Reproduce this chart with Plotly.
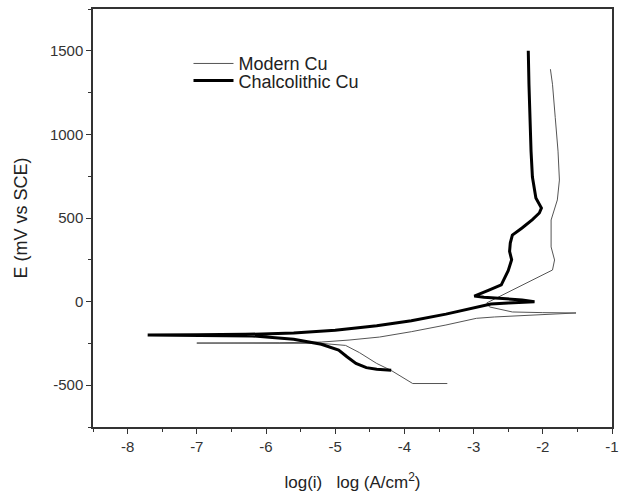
import plotly.graph_objects as go

# Modern Cu (thin curve): log(i) and E in mV vs SCE
modern_logi = [-3.38, -3.88, -4.19, -4.40, -4.65, -4.85, -5.2, -5.8, -6.5, -7.0,
               -6.5, -5.8, -5.2, -4.8, -4.36, -3.9, -3.4, -2.96, -2.70, -2.2, -1.52,
               -2.0, -2.44, -2.77, -2.81, -2.70, -2.58, -2.24, -2.0, -1.86, -1.83,
               -1.88, -1.88, -1.79, -1.76, -1.78, -1.82, -1.86, -1.89]
modern_E = [-490, -490, -412, -370, -305, -262, -250, -249, -248, -248,
            -247, -246, -242, -230, -212, -180, -140, -100, -92, -80, -68,
            -66, -62, -32, -8, 15, 40, 111, 160, 189, 249,
            327, 488, 608, 727, 900, 1100, 1300, 1390]

# Chalcolithic Cu (thick curve)
chalco_logi = [-4.19, -4.40, -4.55, -4.70, -4.83, -4.95, -5.2, -5.6, -6.2, -7.0, -7.71,
               -7.0, -6.3, -5.6, -5.0, -4.4, -3.9, -3.4, -3.0, -2.75, -2.5, -2.25, -2.12,
               -2.3, -2.6, -2.85, -2.99, -2.9, -2.77, -2.6, -2.55, -2.5, -2.45, -2.48,
               -2.47, -2.44, -2.3, -2.15, -2.05, -2.02, -2.1, -2.15, -2.17, -2.19, -2.2, -2.21]
chalco_E = [-410, -405, -395, -370, -330, -290, -255, -225, -205, -200, -200,
            -199, -196, -188, -172, -145, -115, -75, -40, -15, -8, -4, -1,
            10, 18, 26, 33, 50, 70, 100, 140, 185, 250, 300,
            350, 398, 440, 490, 530, 560, 620, 745, 900, 1100, 1300, 1500]

# tick labels (plain hyphen, as in the original)
x_ticks = [-8, -7, -6, -5, -4, -3, -2, -1]
x_labels = ["-8", "-7", "-6", "-5", "-4", "-3", "-2", "-1"]
y_ticks = [-500, 0, 500, 1000, 1500]
y_labels = ["-500", "0", "500", "1000", "1500"]

fig = go.Figure()
fig.add_trace(go.Scatter(x=modern_logi, y=modern_E, mode="lines", name="Modern Cu",
                         line=dict(color="#555555", width=1), legend="legend", showlegend=True))
fig.add_trace(go.Scatter(x=chalco_logi, y=chalco_E, mode="lines", name="Chalcolithic Cu",
                         line=dict(color="black", width=3), legend="legend2", showlegend=True))

axis_font = dict(family="Liberation Sans, Arial, sans-serif", size=15, color="#333333")
leg = dict(xanchor="left", yanchor="middle", bgcolor="rgba(0,0,0,0)",
           font=dict(size=18, color="#222222"), borderwidth=0, itemwidth=40)

fig.update_layout(
    width=621, height=495,
    margin=dict(l=93, r=9, t=9, b=68, autoexpand=False),
    paper_bgcolor="white", plot_bgcolor="white",
    font=axis_font,
    showlegend=True,
    legend=dict(x=0.184, y=0.869, **leg),
    legend2=dict(x=0.184, y=0.828, **leg),
)
fig.update_xaxes(range=[-8.5, -1], tickvals=x_ticks, ticktext=x_labels, showgrid=False,
                 zeroline=False, automargin=False,
                 showline=True, linecolor="#333333", linewidth=1.5, mirror=True,
                 ticks="outside", ticklen=5, tickcolor="#333333",
                 minor=dict(dtick=0.5, tick0=-8.5, ticks="outside", ticklen=3, tickcolor="#333333"),
                 title=dict(text="log(i)&nbsp;&nbsp;&nbsp;log (A/cm<sup>2</sup>)",
                            font=dict(size=17, color="#222222"), standoff=22))
fig.update_yaxes(range=[-750, 1750], tickvals=y_ticks, ticktext=y_labels, showgrid=False,
                 zeroline=False, automargin=False,
                 showline=True, linecolor="#333333", linewidth=1.5, mirror=True,
                 ticks="outside", ticklen=5, tickcolor="#333333",
                 minor=dict(dtick=250, tick0=-750, ticks="outside", ticklen=3, tickcolor="#333333"),
                 title=dict(text="E (mV vs SCE)", font=dict(size=18, color="#222222"), standoff=18))

# drop the default 8px body margin so the figure fills the window
fig.write_html("out.html", config={"displayModeBar": False},
               post_script="document.body.style.margin='0';")
